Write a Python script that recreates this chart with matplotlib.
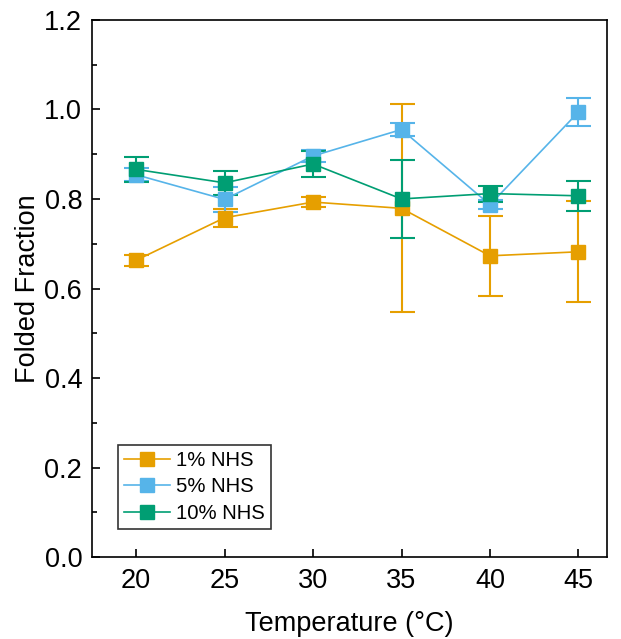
import matplotlib
matplotlib.use("Agg")
import matplotlib.pyplot as plt
from matplotlib.ticker import MultipleLocator, FormatStrFormatter
from matplotlib.lines import Line2D

plt.rcParams['font.family'] = ['Liberation Sans', 'DejaVu Sans']

temperature = [20, 25, 30, 35, 40, 45]

nhs1 = [0.663, 0.758, 0.793, 0.779, 0.673, 0.682]
nhs1_err = [0.012, 0.020, 0.012, 0.232, 0.089, 0.113]

nhs5 = [0.854, 0.799, 0.896, 0.955, 0.787, 0.994]
nhs5_err = [0.015, 0.028, 0.013, 0.015, 0.010, 0.031]

nhs10 = [0.866, 0.836, 0.878, 0.800, 0.812, 0.807]
nhs10_err = [0.028, 0.027, 0.028, 0.087, 0.018, 0.034]

series = [
    ("1% NHS", nhs1, nhs1_err, "#E69F00"),
    ("5% NHS", nhs5, nhs5_err, "#56B4E9"),
    ("10% NHS", nhs10, nhs10_err, "#009E73"),
]

fig = plt.figure(figsize=(6.21, 6.39), dpi=100)
ax = fig.add_axes([0.148, 0.128, 0.829, 0.841])

handles = []
for label, vals, errs, color in series:
    ax.errorbar(temperature, vals, yerr=errs, color=color, marker='s',
                markersize=9.5, linewidth=1.2, elinewidth=1.5,
                capsize=9, capthick=1.5)
    handles.append(Line2D([], [], color=color, marker='s', markersize=9.5,
                          linewidth=1.2, label=label))

ax.set_xlim(17.5, 46.6)
ax.set_ylim(0, 1.2)
ax.xaxis.set_major_locator(MultipleLocator(5))
ax.yaxis.set_major_locator(MultipleLocator(0.2))
ax.yaxis.set_minor_locator(MultipleLocator(0.1))
ax.yaxis.set_major_formatter(FormatStrFormatter('%.1f'))

ax.tick_params(axis='both', which='major', direction='in', length=6,
               width=1.2, labelsize=19.5, pad=8)
ax.tick_params(axis='y', which='major', pad=7)
ax.tick_params(axis='y', which='minor', direction='in', length=3.5, width=1.2)
ax.tick_params(top=False, right=False)
for s in ax.spines.values():
    s.set_linewidth(1.2)

ax.set_xlabel("Temperature (°C)", fontsize=19.5, labelpad=12)
ax.set_ylabel("Folded Fraction", fontsize=19.5, labelpad=2.5)

leg = ax.legend(handles=handles, loc='lower left',
                bbox_to_anchor=(0.05, 0.052), fontsize=14.6,
                frameon=True, fancybox=False, edgecolor='black',
                handlelength=2.3, borderpad=0.3, labelspacing=0.38,
                handletextpad=0.3, borderaxespad=0)
leg.get_frame().set_linewidth(1.2)

fig.savefig("out.png", dpi=100)
